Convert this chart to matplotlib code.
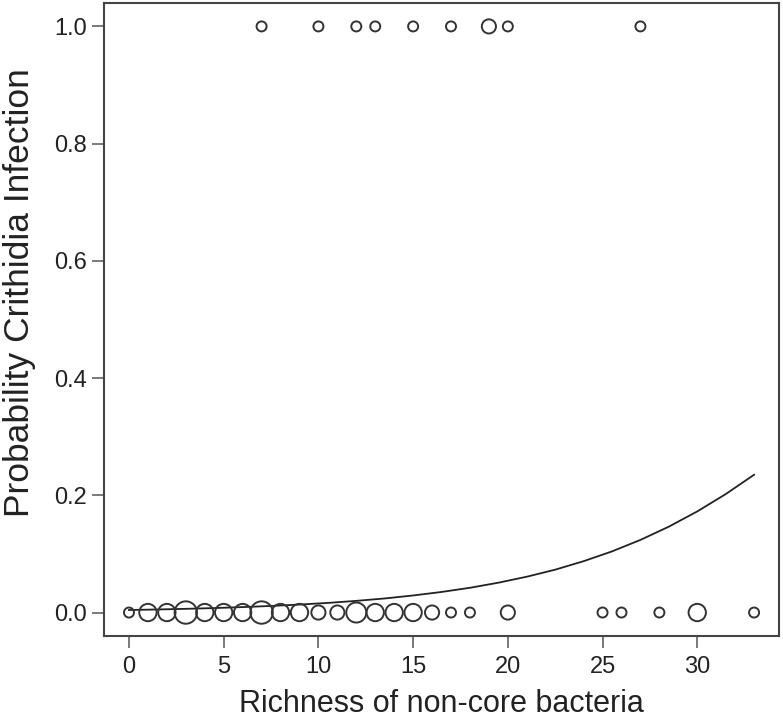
import matplotlib.pyplot as plt
import numpy as np

plt.rcParams['font.family'] = ['Liberation Sans', 'DejaVu Sans']

# Observations: richness value and number of bees at that value (circle size)
x_uninfected = [0, 1, 2, 3, 4, 5, 6, 7, 8, 9, 10, 11, 12, 13, 14, 15, 16, 17, 18, 20, 25, 26, 28, 30, 33]
n_uninfected = [1, 3, 3, 5, 3, 3, 3, 5, 3, 3, 2, 2, 4, 3, 3, 3, 2, 1, 1, 2, 1, 1, 1, 3, 1]
x_infected = [7, 10, 12, 13, 15, 17, 19, 20, 27]
n_infected = [1, 1, 1, 1, 1, 1, 2, 1, 1]

# Fitted probability curve
curve_x = [0, 1.5, 3, 4.5, 6, 7.5, 9, 10.5, 12, 13.5, 15, 16.5,
           18, 19.5, 21, 22.5, 24, 25.5, 27, 28.5, 30, 31.5, 33]
curve_p = [0.0043, 0.0052, 0.0063, 0.0076, 0.0093, 0.0112, 0.0136, 0.0164,
           0.0199, 0.0240, 0.0291, 0.0351, 0.0422, 0.0509, 0.0611, 0.0731,
           0.0876, 0.1043, 0.1239, 0.1465, 0.1725, 0.2020, 0.2351]

fig = plt.figure(figsize=(7.83, 7.25), dpi=100)
ax = fig.add_axes([0.1328, 0.1228, 0.8622, 0.8731])

edge = '#333333'
ax.scatter(x_uninfected, [0] * len(x_uninfected), s=np.array(n_uninfected) * 52,
           facecolors='none', edgecolors=edge, linewidths=1.4, zorder=3)
ax.scatter(x_infected, [1] * len(x_infected), s=np.array(n_infected) * 52,
           facecolors='none', edgecolors=edge, linewidths=1.4, zorder=3)
ax.plot(curve_x, curve_p, color='#222222', linewidth=1.3, zorder=2)

ax.set_xlim(-1.32, 34.32)
ax.set_ylim(-0.04, 1.04)
ax.set_xticks([0, 5, 10, 15, 20, 25, 30])
ax.set_yticks([0.0, 0.2, 0.4, 0.6, 0.8, 1.0])
ax.set_yticklabels(['0.0', '0.2', '0.4', '0.6', '0.8', '1.0'])
ax.tick_params(direction='out', length=8.5, width=1.1, color='#555555',
               labelsize=17, labelcolor='#222222')
ax.tick_params(axis='y', pad=4)
ax.tick_params(axis='x', pad=6)
for s in ax.spines.values():
    s.set_color('#444444')
    s.set_linewidth(1.5)

ax.set_xlabel('Richness of non-core bacteria', fontsize=22, color='#222222', labelpad=8)
ax.set_ylabel('Probability Crithidia Infection', fontsize=25.5, color='#222222')
ax.yaxis.set_label_coords(-0.101, 0.543)

fig.savefig('out.png', dpi=100)
